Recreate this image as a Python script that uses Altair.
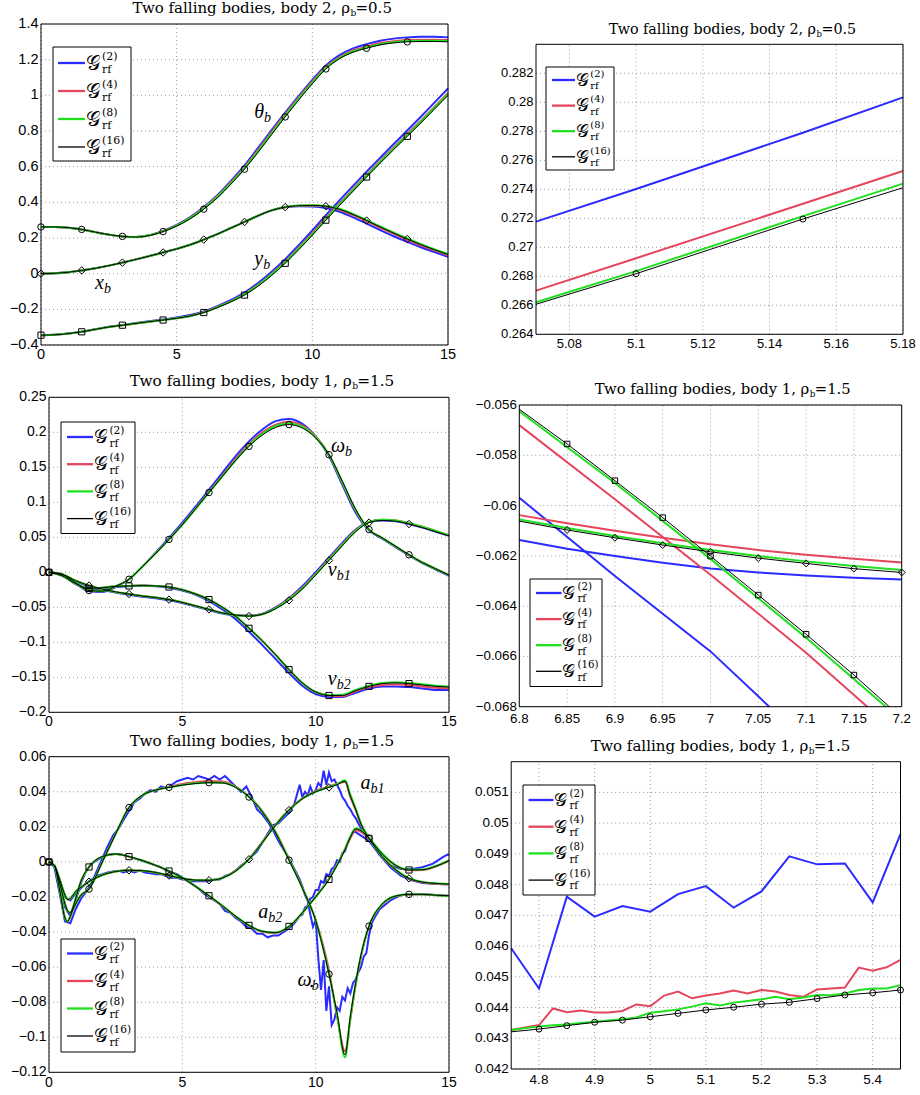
import altair as alt
import pandas as pd

W, H = 920, 1095

BLUE, RED, GREEN, BLACK = "#2b2bff", "#e5455d", "#1ee01e", "#000000"
GRID = "#9a9a9a"
COL = {"blue": BLUE, "red": RED, "green": GREEN, "black": BLACK}
LW = {"blue": 2.0, "red": 2.0, "green": 2.0, "black": 1.0}
ORDER = ["blue", "red", "green", "black"]
SUPER = {"blue": "(2)", "red": "(4)", "green": "(8)", "black": "(16)"}
SERIF = "DejaVu Serif"
MATH = "Liberation Serif"
SANS = "Liberation Sans"

# ------------------------------------------------------------------ data
T = [0, 0.5, 1, 1.5, 2, 2.5, 3, 3.5, 4, 4.5, 5, 5.5, 6, 6.5, 7, 7.5, 8, 8.5,
     9, 9.5, 10, 10.5, 11, 11.5, 12, 12.5, 13, 13.5, 14, 14.5, 15]
MARK_T = [0, 1.5, 3, 4.5, 6, 7.5, 9, 10.5, 12, 13.5]

# panel 1 : body 2, rho=0.5
P1_THETA = {
    "black": [0.262, 0.262, 0.258, 0.248, 0.233, 0.219, 0.209, 0.205, 0.214, 0.236, 0.267, 0.308, 0.362, 0.425, 0.502, 0.586, 0.680, 0.780, 0.879, 0.974, 1.065, 1.148, 1.205, 1.242, 1.264, 1.283, 1.294, 1.300, 1.302, 1.302, 1.300],
    "green": [0.262, 0.262, 0.258, 0.248, 0.233, 0.219, 0.209, 0.206, 0.215, 0.237, 0.269, 0.311, 0.366, 0.430, 0.508, 0.592, 0.687, 0.787, 0.886, 0.981, 1.071, 1.153, 1.209, 1.246, 1.268, 1.287, 1.298, 1.304, 1.306, 1.306, 1.304],
    "red":   [0.262, 0.262, 0.258, 0.248, 0.233, 0.219, 0.209, 0.206, 0.215, 0.238, 0.270, 0.313, 0.369, 0.434, 0.513, 0.598, 0.694, 0.795, 0.894, 0.988, 1.078, 1.159, 1.215, 1.252, 1.274, 1.293, 1.304, 1.310, 1.312, 1.312, 1.310],
    "blue":  [0.262, 0.262, 0.258, 0.248, 0.233, 0.219, 0.209, 0.206, 0.216, 0.240, 0.273, 0.317, 0.373, 0.440, 0.520, 0.607, 0.705, 0.805, 0.903, 0.997, 1.087, 1.168, 1.225, 1.263, 1.287, 1.306, 1.318, 1.325, 1.328, 1.328, 1.325],
}
P1_XB = {
    "black": [0.000, 0.002, 0.008, 0.018, 0.030, 0.045, 0.062, 0.080, 0.099, 0.119, 0.139, 0.162, 0.191, 0.222, 0.256, 0.290, 0.325, 0.355, 0.373, 0.381, 0.383, 0.378, 0.361, 0.332, 0.298, 0.262, 0.227, 0.194, 0.163, 0.134, 0.107],
    "green": [0.000, 0.002, 0.008, 0.018, 0.030, 0.045, 0.062, 0.080, 0.099, 0.119, 0.139, 0.162, 0.191, 0.222, 0.256, 0.290, 0.325, 0.355, 0.374, 0.382, 0.384, 0.380, 0.364, 0.335, 0.301, 0.265, 0.230, 0.197, 0.166, 0.137, 0.110],
    "red":   [0.000, 0.002, 0.008, 0.018, 0.030, 0.045, 0.062, 0.080, 0.099, 0.119, 0.139, 0.162, 0.191, 0.222, 0.256, 0.290, 0.325, 0.355, 0.373, 0.381, 0.382, 0.376, 0.358, 0.328, 0.294, 0.258, 0.223, 0.190, 0.159, 0.131, 0.104],
    "blue":  [0.000, 0.002, 0.008, 0.018, 0.030, 0.045, 0.062, 0.080, 0.099, 0.119, 0.139, 0.162, 0.191, 0.222, 0.256, 0.290, 0.325, 0.355, 0.372, 0.378, 0.377, 0.368, 0.347, 0.316, 0.281, 0.245, 0.210, 0.178, 0.148, 0.121, 0.094],
}
P1_YB = {
    "black": [-0.345, -0.343, -0.336, -0.326, -0.312, -0.299, -0.289, -0.279, -0.269, -0.260, -0.250, -0.237, -0.218, -0.190, -0.158, -0.120, -0.070, -0.010, 0.058, 0.135, 0.215, 0.300, 0.382, 0.462, 0.542, 0.620, 0.696, 0.770, 0.845, 0.922, 1.000],
    "green": [-0.345, -0.343, -0.336, -0.326, -0.312, -0.299, -0.289, -0.279, -0.269, -0.260, -0.250, -0.237, -0.217, -0.188, -0.155, -0.116, -0.065, -0.004, 0.064, 0.141, 0.221, 0.306, 0.388, 0.468, 0.548, 0.626, 0.702, 0.777, 0.852, 0.929, 1.007],
    "red":   [-0.345, -0.343, -0.336, -0.326, -0.312, -0.299, -0.289, -0.279, -0.269, -0.260, -0.250, -0.237, -0.216, -0.187, -0.154, -0.114, -0.062, 0.000, 0.069, 0.147, 0.227, 0.312, 0.394, 0.474, 0.554, 0.632, 0.708, 0.783, 0.858, 0.935, 1.013],
    "blue":  [-0.345, -0.343, -0.336, -0.326, -0.312, -0.298, -0.288, -0.277, -0.267, -0.257, -0.246, -0.232, -0.212, -0.182, -0.147, -0.106, -0.052, 0.011, 0.081, 0.160, 0.242, 0.328, 0.411, 0.492, 0.572, 0.650, 0.727, 0.803, 0.880, 0.959, 1.038],
}

# panel 2 : zoom of theta_b
P2_X = [5.07, 5.10, 5.15, 5.18]
P2_MARK = [5.10, 5.15]
P2_THETA = {
    "black": [0.26607, 0.26818, 0.27195, 0.27411],
    "green": [0.26621, 0.26836, 0.27215, 0.27439],
    "red":   [0.26701, 0.26925, 0.27300, 0.27526],
    "blue":  [0.27177, 0.27402, 0.27790, 0.28034],
}

# panel 3 : body 1, rho=1.5, velocities
P3_OMEGA = {
    "black": [0.000, -0.003, -0.015, -0.026, -0.027, -0.020, -0.010, 0.008, 0.027, 0.047, 0.068, 0.091, 0.114, 0.137, 0.160, 0.180, 0.196, 0.207, 0.211, 0.206, 0.192, 0.168, 0.130, 0.090, 0.061, 0.049, 0.037, 0.025, 0.014, 0.005, -0.004],
    "green": [0.000, -0.003, -0.015, -0.026, -0.027, -0.020, -0.010, 0.008, 0.027, 0.047, 0.068, 0.091, 0.114, 0.137, 0.160, 0.181, 0.198, 0.209, 0.213, 0.208, 0.193, 0.168, 0.129, 0.089, 0.061, 0.049, 0.037, 0.025, 0.014, 0.005, -0.004],
    "red":   [0.000, -0.003, -0.015, -0.026, -0.027, -0.020, -0.010, 0.008, 0.027, 0.047, 0.068, 0.091, 0.115, 0.138, 0.162, 0.183, 0.200, 0.211, 0.215, 0.210, 0.194, 0.168, 0.128, 0.088, 0.061, 0.049, 0.037, 0.025, 0.014, 0.005, -0.004],
    "blue":  [0.000, -0.003, -0.016, -0.027, -0.028, -0.021, -0.010, 0.008, 0.028, 0.049, 0.071, 0.094, 0.118, 0.142, 0.166, 0.187, 0.204, 0.216, 0.219, 0.212, 0.194, 0.166, 0.125, 0.085, 0.060, 0.048, 0.036, 0.024, 0.013, 0.004, -0.005],
}
P3_V1 = {
    "black": [0.000, -0.003, -0.012, -0.019, -0.024, -0.028, -0.031, -0.034, -0.036, -0.039, -0.043, -0.048, -0.053, -0.058, -0.061, -0.0625, -0.060, -0.052, -0.040, -0.024, -0.004, 0.017, 0.038, 0.058, 0.071, 0.074, 0.073, 0.069, 0.064, 0.058, 0.052],
    "green": [0.000, -0.003, -0.012, -0.019, -0.024, -0.028, -0.031, -0.034, -0.036, -0.039, -0.043, -0.048, -0.053, -0.058, -0.061, -0.0623, -0.0598, -0.0515, -0.039, -0.023, -0.003, 0.018, 0.039, 0.059, 0.072, 0.075, 0.074, 0.070, 0.065, 0.059, 0.053],
    "red":   [0.000, -0.003, -0.012, -0.019, -0.024, -0.028, -0.031, -0.034, -0.036, -0.039, -0.043, -0.048, -0.053, -0.058, -0.061, -0.0622, -0.0595, -0.051, -0.038, -0.022, -0.002, 0.019, 0.040, 0.060, 0.072, 0.075, 0.074, 0.070, 0.065, 0.059, 0.053],
    "blue":  [0.000, -0.003, -0.013, -0.020, -0.025, -0.029, -0.032, -0.035, -0.037, -0.040, -0.044, -0.049, -0.054, -0.059, -0.0615, -0.062, -0.059, -0.050, -0.037, -0.020, 0.000, 0.021, 0.042, 0.061, 0.072, 0.074, 0.073, 0.069, 0.064, 0.058, 0.052],
}
P3_V2 = {
    "black": [0.000, -0.005, -0.016, -0.023, -0.022, -0.020, -0.0195, -0.019, -0.0195, -0.021, -0.025, -0.031, -0.039, -0.050, -0.063, -0.080, -0.098, -0.118, -0.139, -0.158, -0.171, -0.176, -0.176, -0.169, -0.163, -0.159, -0.158, -0.159, -0.161, -0.163, -0.164],
    "green": [0.000, -0.005, -0.016, -0.023, -0.022, -0.020, -0.0195, -0.019, -0.0195, -0.021, -0.025, -0.031, -0.039, -0.050, -0.063, -0.080, -0.098, -0.118, -0.139, -0.158, -0.171, -0.1755, -0.175, -0.168, -0.162, -0.158, -0.157, -0.158, -0.160, -0.162, -0.163],
    "red":   [0.000, -0.005, -0.016, -0.023, -0.022, -0.020, -0.0195, -0.019, -0.0195, -0.021, -0.025, -0.031, -0.039, -0.050, -0.063, -0.080, -0.098, -0.118, -0.139, -0.158, -0.171, -0.176, -0.177, -0.170, -0.164, -0.161, -0.160, -0.161, -0.163, -0.165, -0.166],
    "blue":  [0.000, -0.005, -0.017, -0.024, -0.023, -0.021, -0.020, -0.019, -0.020, -0.022, -0.026, -0.032, -0.041, -0.053, -0.067, -0.085, -0.104, -0.124, -0.144, -0.162, -0.174, -0.178, -0.178, -0.172, -0.166, -0.163, -0.163, -0.164, -0.166, -0.168, -0.168],
}

# panel 4 : zoom of v_b1 (flat) and v_b2 (steep)
P4_X = [6.80, 6.85, 6.90, 6.95, 7.00, 7.05, 7.10, 7.15, 7.20]
P4_MARK_FLAT = [6.85, 6.90, 6.95, 7.00, 7.05, 7.10, 7.15, 7.20]
P4_MARK_STEEP = [6.85, 6.90, 6.95, 7.00, 7.05, 7.10, 7.15]
P4_FLAT = {
    "black": [-0.06062, -0.06097, -0.06128, -0.06157, -0.06184, -0.06209, -0.06230, -0.06251, -0.06266],
    "green": [-0.06055, -0.06089, -0.06121, -0.06150, -0.06177, -0.06201, -0.06222, -0.06240, -0.06256],
    "red":   [-0.06038, -0.06070, -0.06100, -0.06128, -0.06154, -0.06177, -0.06196, -0.06212, -0.06226],
    "blue":  [-0.06137, -0.06172, -0.06201, -0.06227, -0.06250, -0.06266, -0.06278, -0.06287, -0.06294],
}
P4_STEEP_X = {
    "black": [6.80, 6.85, 6.90, 6.95, 7.00, 7.05, 7.10, 7.15, 7.187],
    "green": [6.80, 6.90, 7.00, 7.10, 7.1835],
    "red":   [6.80, 6.90, 7.00, 7.10, 7.164],
    "blue":  [6.80, 6.90, 7.00, 7.0615],
}
P4_STEEP = {
    "black": [-0.05617, -0.05755, -0.05901, -0.06048, -0.06201, -0.06356, -0.06512, -0.06674, -0.06800],
    "green": [-0.05625, -0.05910, -0.06212, -0.06526, -0.06800],
    "red":   [-0.05680, -0.05975, -0.06275, -0.06585, -0.06800],
    "blue":  [-0.05969, -0.06280, -0.06580, -0.06800],
}

# panel 5 : accelerations
T5 = [0, 0.2, 0.4, 0.6, 0.7, 0.8, 0.9, 1.0, 1.2, 1.5, 2, 2.5, 3, 3.5, 4, 4.5, 5, 5.5, 6, 6.5,
      7, 7.5, 8, 8.5, 9, 9.5, 10, 10.5, 10.8, 11.1, 11.3, 11.5, 11.7, 12, 12.5, 13, 13.5, 14, 14.5, 15]
TB = [0, 0.2, 0.4, 0.6, 0.8, 1.0, 1.2, 1.4, 1.6, 1.8, 2.0, 2.2, 2.4, 2.6, 2.8, 3.0, 3.2, 3.4, 3.6, 3.8,
      4.0, 4.2, 4.4, 4.6, 4.8, 5.0, 5.2, 5.4, 5.6, 5.8, 6.0, 6.2, 6.4, 6.6, 6.8, 7.0, 7.2, 7.4, 7.6, 7.8,
      8.0, 8.2, 8.4, 8.6, 8.8, 9.0, 9.2, 9.4,
      9.5, 9.6, 9.7, 9.8, 9.9, 10.0, 10.1, 10.2, 10.3, 10.4, 10.5, 10.6, 10.7, 10.8, 10.9, 11.0, 11.1, 11.2, 11.3, 11.4,
      11.5, 11.6, 11.7, 11.8, 11.9, 12.0, 12.1, 12.2,
      12.4, 12.8, 13.2, 13.6, 14.0, 14.4, 14.8, 15.0]
P5_WDOT = {
    "black": [0, -0.002, -0.016, -0.032, -0.034, -0.031, -0.027, -0.024, -0.019, -0.0155,
              0.000, 0.016, 0.031, 0.038, 0.041, 0.0425, 0.0438, 0.0447, 0.0452, 0.0450,
              0.0425, 0.0370, 0.0285, 0.0165, 0.0010, -0.0150, -0.0335, -0.0640, -0.0860, -0.1100,
              -0.0880, -0.0690, -0.0530, -0.0366, -0.0240, -0.0195, -0.0185, -0.0185, -0.0190, -0.0193],
    "green": [0, -0.002, -0.016, -0.032, -0.034, -0.031, -0.027, -0.024, -0.019, -0.0155,
              0.000, 0.016, 0.031, 0.038, 0.041, 0.0425, 0.0439, 0.0448, 0.0453, 0.0451,
              0.0427, 0.0372, 0.0287, 0.0167, 0.0012, -0.0148, -0.0333, -0.0640, -0.0870, -0.1115,
              -0.0890, -0.0695, -0.0532, -0.0366, -0.0240, -0.0195, -0.0185, -0.0185, -0.0190, -0.0193],
    "red":   [0, -0.002, -0.016, -0.032, -0.034, -0.031, -0.027, -0.024, -0.019, -0.0155,
              0.000, 0.016, 0.031, 0.038, 0.041, 0.0428, 0.0445, 0.0455, 0.0462, 0.0458,
              0.0430, 0.0372, 0.0290, 0.0170, 0.0015, -0.0145, -0.0330, -0.0620, -0.0880, -0.1080,
              -0.0900, -0.0700, -0.0540, -0.0370, -0.0242, -0.0196, -0.0186, -0.0185, -0.0190, -0.0193],
    "blue":  [0, -0.003, -0.018, -0.034, -0.035, -0.027, -0.021, -0.017, -0.012, -0.005,
              0.002, 0.009, 0.015, 0.019, 0.024, 0.029, 0.034, 0.036, 0.039, 0.041,
              0.040, 0.043, 0.042, 0.044, 0.046, 0.047, 0.048, 0.047, 0.049, 0.048,
              0.047, 0.049, 0.047, 0.049, 0.046, 0.043, 0.040, 0.043, 0.037, 0.030,
              0.027, 0.023, 0.018, 0.012, 0.007, 0.002, -0.004, -0.010,
              -0.014, -0.019, -0.022, -0.030, -0.037, -0.033, -0.055, -0.073, -0.056, -0.085,
              -0.071, -0.093, -0.090, -0.083, -0.085, -0.077, -0.079, -0.072, -0.075, -0.069,
              -0.067, -0.063, -0.060, -0.054, -0.052, -0.042, -0.035, -0.032,
              -0.027, -0.022, -0.019, -0.0185, -0.0185, -0.0188, -0.0192, -0.0193],
}
P5_A1 = {
    "black": [0, -0.002, -0.010, -0.019, -0.0215, -0.021, -0.019, -0.017, -0.0145, -0.0113,
              -0.0075, -0.0055, -0.0048, -0.0050, -0.0060, -0.0078, -0.0094, -0.0104, -0.0105, -0.0092,
              -0.0052, 0.0015, 0.0110, 0.0210, 0.0295, 0.0360, 0.0400, 0.0425, 0.0440, 0.0460,
              0.0375, 0.0300, 0.0215, 0.0135, 0.0030, -0.0045, -0.0094, -0.0115, -0.0123, -0.0127],
    "green": [0, -0.002, -0.010, -0.019, -0.0215, -0.021, -0.019, -0.017, -0.0145, -0.0113,
              -0.0075, -0.0055, -0.0048, -0.0050, -0.0060, -0.0078, -0.0094, -0.0104, -0.0105, -0.0092,
              -0.0052, 0.0015, 0.0110, 0.0210, 0.0295, 0.0360, 0.0400, 0.0427, 0.0443, 0.0465,
              0.0385, 0.0305, 0.0220, 0.0137, 0.0031, -0.0044, -0.0093, -0.0114, -0.0122, -0.0126],
    "red":   [0, -0.002, -0.010, -0.019, -0.0215, -0.021, -0.019, -0.017, -0.0145, -0.0113,
              -0.0075, -0.0055, -0.0048, -0.0050, -0.0061, -0.0079, -0.0095, -0.0104, -0.0105, -0.0091,
              -0.0050, 0.0018, 0.0114, 0.0213, 0.0297, 0.0362, 0.0405, 0.0430, 0.0446, 0.0455,
              0.0370, 0.0295, 0.0212, 0.0133, 0.0029, -0.0046, -0.0095, -0.0116, -0.0124, -0.0128],
    "blue":  [0, -0.002, -0.011, -0.020, -0.022, -0.018, -0.015, -0.012, -0.010, -0.008,
              -0.007, -0.006, -0.0055, -0.005, -0.006, -0.005, -0.006, -0.005, -0.006, -0.0065,
              -0.007, -0.007, -0.008, -0.009, -0.009, -0.010, -0.010, -0.011, -0.011, -0.011,
              -0.011, -0.010, -0.010, -0.008, -0.007, -0.005, -0.002, 0.000, 0.003, 0.006,
              0.011, 0.016, 0.021, 0.022, 0.025, 0.028, 0.033, 0.044,
              0.037, 0.040, 0.038, 0.043, 0.039, 0.041, 0.045, 0.043, 0.052, 0.044,
              0.051, 0.046, 0.047, 0.044, 0.041, 0.037, 0.035, 0.032, 0.030, 0.027,
              0.025, 0.022, 0.019, 0.017, 0.015, 0.013, 0.011, 0.009,
              0.004, -0.003, -0.008, -0.0105, -0.012, -0.0125, -0.0128, -0.0128],
}
P5_A2 = {
    "black": [0, -0.002, -0.012, -0.024, -0.028, -0.029, -0.026, -0.021, -0.011, -0.0029,
              0.0030, 0.0045, 0.0030, 0.0008, -0.0020, -0.0052, -0.0090, -0.0140, -0.0193, -0.0250,
              -0.0310, -0.0362, -0.0396, -0.0403, -0.0368, -0.0290, -0.0200, -0.0100, -0.0020, 0.0070,
              0.0140, 0.0188, 0.0178, 0.0134, 0.0045, -0.0020, -0.0046, -0.0045, -0.0025, 0.0007],
    "green": [0, -0.002, -0.012, -0.024, -0.028, -0.029, -0.026, -0.021, -0.011, -0.0029,
              0.0030, 0.0045, 0.0030, 0.0008, -0.0020, -0.0052, -0.0090, -0.0140, -0.0193, -0.0250,
              -0.0310, -0.0362, -0.0396, -0.0403, -0.0368, -0.0290, -0.0200, -0.0098, -0.0017, 0.0074,
              0.0145, 0.0192, 0.0182, 0.0137, 0.0047, -0.0018, -0.0044, -0.0043, -0.0023, 0.0009],
    "red":   [0, -0.002, -0.012, -0.024, -0.028, -0.029, -0.026, -0.021, -0.011, -0.0029,
              0.0030, 0.0045, 0.0030, 0.0008, -0.0020, -0.0053, -0.0091, -0.0141, -0.0194, -0.0252,
              -0.0312, -0.0364, -0.0398, -0.0405, -0.0370, -0.0292, -0.0198, -0.0095, -0.0015, 0.0072,
              0.0135, 0.0180, 0.0172, 0.0130, 0.0043, -0.0021, -0.0047, -0.0046, -0.0026, 0.0006],
    "blue":  [0, -0.002, -0.013, -0.026, -0.031, -0.022, -0.012, -0.005, -0.001, 0.001,
              0.003, 0.004, 0.0045, 0.0045, 0.004, 0.003, 0.002, 0.001, 0.000, -0.001,
              -0.002, -0.003, -0.005, -0.006, -0.007, -0.009, -0.011, -0.013, -0.015, -0.018,
              -0.020, -0.022, -0.024, -0.028, -0.029, -0.032, -0.034, -0.037, -0.038, -0.041,
              -0.041, -0.043, -0.042, -0.042, -0.040, -0.038, -0.035, -0.031,
              -0.030, -0.026, -0.025, -0.021, -0.020, -0.016, -0.016, -0.011, -0.012, -0.007,
              -0.008, -0.004, -0.003, 0.001, 0.000, 0.005, 0.006, 0.011, 0.014, 0.017,
              0.017, 0.016, 0.015, 0.014, 0.013, 0.012, 0.010, 0.008,
              0.004, -0.002, -0.004, -0.004, -0.003, -0.001, 0.003, 0.0045],
}

# panel 6 : zoom of omega-dot
P6_X50 = [4.75, 4.80, 4.85, 4.90, 4.95, 5.00, 5.05, 5.10, 5.15, 5.20, 5.25, 5.30, 5.35, 5.40, 5.45]
P6_X25 = [4.75, 4.775, 4.80, 4.825, 4.85, 4.875, 4.90, 4.925, 4.95, 4.975, 5.00, 5.025, 5.05, 5.075,
          5.10, 5.125, 5.15, 5.175, 5.20, 5.225, 5.25, 5.275, 5.30, 5.325, 5.35, 5.375, 5.40, 5.425, 5.45]
P6_MARK = [4.80, 4.85, 4.90, 4.95, 5.00, 5.05, 5.10, 5.15, 5.20, 5.25, 5.30, 5.35, 5.40, 5.45]
P6_WDOT = {
    "black": [0.04321, 0.04330, 0.04341, 0.04352, 0.04359, 0.04370, 0.04381, 0.04392, 0.04401, 0.04411, 0.04417, 0.04429, 0.04441, 0.04448, 0.04457],
    "blue":  [0.04593, 0.04462, 0.04761, 0.04696, 0.04730, 0.04712, 0.04769, 0.04795, 0.04725, 0.04778, 0.04892, 0.04866, 0.04869, 0.04742, 0.04964],
    "red":   [0.04327, 0.04335, 0.04343, 0.04397, 0.04385, 0.04390, 0.04384, 0.04384, 0.04389, 0.04410, 0.04404, 0.04439, 0.04452, 0.04430,
              0.04439, 0.04446, 0.04455, 0.04446, 0.04457, 0.04452, 0.04441, 0.04435, 0.04459, 0.04462, 0.04465, 0.04530, 0.04520, 0.04531, 0.04555],
    "green": [0.04327, 0.04333, 0.04338, 0.04342, 0.04345, 0.04350, 0.04354, 0.04358, 0.04362, 0.04368, 0.04383, 0.04388, 0.04394, 0.04403,
              0.04414, 0.04407, 0.04416, 0.04421, 0.04427, 0.04435, 0.04427, 0.04433, 0.04441, 0.04440, 0.04446, 0.04457, 0.04462, 0.04462, 0.04473],
}
P6_XS = {"black": P6_X50, "blue": P6_X50, "red": P6_X25, "green": P6_X25}

# tick labels
P1_YT = [-0.4, -0.2, 0, 0.2, 0.4, 0.6, 0.8, 1, 1.2, 1.4]
P2_XT = [5.08, 5.10, 5.12, 5.14, 5.16, 5.18]
P2_YT = [0.264, 0.266, 0.268, 0.270, 0.272, 0.274, 0.276, 0.278, 0.280, 0.282]
P3_YT = [-0.2, -0.15, -0.1, -0.05, 0, 0.05, 0.1, 0.15, 0.2, 0.25]
P4_XT = [6.8, 6.85, 6.9, 6.95, 7, 7.05, 7.1, 7.15, 7.2]
P4_YT = [-0.068, -0.066, -0.064, -0.062, -0.060, -0.058, -0.056]
P5_YT = [-0.12, -0.1, -0.08, -0.06, -0.04, -0.02, 0, 0.02, 0.04, 0.06]
P6_XT = [4.8, 4.9, 5.0, 5.1, 5.2, 5.3, 5.4]
P6_YT = [0.042, 0.043, 0.044, 0.045, 0.046, 0.047, 0.048, 0.049, 0.050, 0.051]
FULL_XT = [0, 5, 10, 15]

# in-plot labels (data coordinates): symbol, subscript, x, y
P1_LABELS = [("θ", "b", 8.22, 0.871), ("y", "b", 8.19, 0.048), ("x", "b", 2.32, -0.088)]
P3_LABELS = [("ω", "b", 11.1, 0.172), ("v", "b1", 10.79, -0.005), ("v", "b2", 10.79, -0.161)]
P5_LABELS = [("a", "b1", 12.06, 0.0414), ("a", "b2", 8.22, -0.0322), ("ω", "b", 9.85, -0.0708)]
P5_DOTS = [(9.85, -0.0708)]

TITLE_A = "Two falling bodies, body 2, ρ"
TITLE_B = "Two falling bodies, body 1, ρ"


# ------------------------------------------------------------------ helpers
def long_df(curves):
    rows = []
    for name, xs, ys in curves:
        for s in ORDER:
            xx = xs[s] if isinstance(xs, dict) else xs
            yy = ys[s]
            assert len(xx) == len(yy), (name, s, len(xx), len(yy))
            for a, b in zip(xx, yy):
                rows.append({"x": a, "y": b, "series": s, "curve": name})
    return pd.DataFrame(rows)


def fmt(v):
    return ("%g" % v).replace("-", "\u2212")


def build_panel(p, df, markers, labels, interp, msize, dots=None):
    sx = alt.Scale(domain=p["xdom"], range=[p["x0"], p["x1"]], nice=False, zero=False)
    sy = alt.Scale(domain=p["ydom"], range=[p["y1"], p["y0"]], nice=False, zero=False)

    def X(f):
        return alt.X(f, type="quantitative", scale=sx, axis=None)

    def Y(f):
        return alt.Y(f, type="quantitative", scale=sy, axis=None)

    layers = []
    vg = pd.DataFrame({"v": p["xt"], "lo": p["ydom"][0], "hi": p["ydom"][1],
                       "lab": [fmt(v) for v in p["xt"]]})
    hg = pd.DataFrame({"v": p["yt"], "lo": p["xdom"][0], "hi": p["xdom"][1],
                       "lab": [fmt(v) for v in p["yt"]]})
    layers.append(alt.Chart(vg).mark_rule(color=GRID, strokeDash=[1, 3], strokeWidth=1)
                  .encode(x=X("v"), y=Y("lo"), y2="hi"))
    layers.append(alt.Chart(hg).mark_rule(color=GRID, strokeDash=[1, 3], strokeWidth=1)
                  .encode(y=Y("v"), x=X("lo"), x2="hi"))
    for s in ORDER:
        layers.append(alt.Chart(df[df.series == s]).mark_line(
            color=COL[s], strokeWidth=LW[s], interpolate=interp[s])
            .encode(x=X("x"), y=Y("y"), detail="curve:N"))
    blk = df[df.series == "black"]
    for curve, shape, mx in markers:
        keys = {round(v, 4) for v in mx}
        sub = blk[(blk.curve == curve) & blk.x.round(4).isin(keys)]
        layers.append(alt.Chart(sub).mark_point(
            shape=shape, filled=False, color="black", strokeWidth=1, opacity=1,
            size=msize[shape]).encode(x=X("x"), y=Y("y")))
    fr = pd.DataFrame({"xa": [p["xdom"][0]], "xb": [p["xdom"][1]],
                       "ya": [p["ydom"][0]], "yb": [p["ydom"][1]]})
    layers.append(alt.Chart(fr).mark_rect(fillOpacity=0, stroke="black", strokeWidth=1)
                  .encode(x=X("xa"), x2="xb", y=Y("ya"), y2="yb"))
    # tick labels placed through the panel's scales
    layers.append(alt.Chart(vg).mark_text(font=SANS, fontSize=p["lfs"], align="center",
                                          baseline="top", dy=p["xdy"], color="black")
                  .encode(x=X("v"), y=Y("lo"), text="lab:N"))
    layers.append(alt.Chart(hg).mark_text(font=SANS, fontSize=p["lfs"], align="right",
                                          baseline="middle", dx=-2.5, color="black")
                  .encode(y=Y("v"), x=X("lo"), text="lab:N"))
    if labels:
        ld = pd.DataFrame(labels, columns=["m", "s", "x", "y"])
        layers.append(alt.Chart(ld).mark_text(font=MATH, fontStyle="italic", fontSize=20,
                                              align="right", baseline="alphabetic", color="black")
                      .encode(x=X("x"), y=Y("y"), text="m:N"))
        layers.append(alt.Chart(ld).mark_text(font=MATH, fontStyle="italic", fontSize=14,
                                              align="left", baseline="alphabetic", dy=4, color="black")
                      .encode(x=X("x"), y=Y("y"), text="s:N"))
    if dots:
        dd = pd.DataFrame(dots, columns=["x", "y"])
        layers.append(alt.Chart(dd).mark_point(shape="circle", filled=True, color="black",
                                               size=6, opacity=1, dx=-6, dy=-15)
                      .encode(x=X("x"), y=Y("y")))
    return alt.layer(*layers)


# ------------------------------------------------------------------ layout (pixels)
PANELS = [
    dict(x0=41, x1=448, y0=24, y1=345, xdom=[0, 15], ydom=[-0.4, 1.4], xt=FULL_XT, yt=P1_YT, lfs=14.5, xdy=3),
    dict(x0=536, x1=903, y0=44.3, y1=334.3, xdom=[5.07, 5.18], ydom=[0.264, 0.284], xt=P2_XT, yt=P2_YT, lfs=13, xdy=4),
    dict(x0=49, x1=449, y0=397.3, y1=712.3, xdom=[0, 15], ydom=[-0.2, 0.25], xt=FULL_XT, yt=P3_YT, lfs=14, xdy=3),
    dict(x0=519.3, x1=901.7, y0=405, y1=706.7, xdom=[6.8, 7.2], ydom=[-0.068, -0.056], xt=P4_XT, yt=P4_YT, lfs=13.3, xdy=5),
    dict(x0=49, x1=449, y0=756.7, y1=1072.3, xdom=[0, 15], ydom=[-0.12, 0.06], xt=FULL_XT, yt=P5_YT, lfs=14, xdy=4),
    dict(x0=511.2, x1=900.5, y0=761.7, y1=1069, xdom=[4.75, 5.45], ydom=[0.042, 0.052], xt=P6_XT, yt=P6_YT, lfs=13.5, xdy=4),
]
LEGENDS = [
    dict(l=53, t=47, w=78, h=114, r0=16, sp=28, a=5, b=32, fs=15),
    dict(l=546, t=67, w=68, h=103, r0=13, sp=25.6, a=6, b=29, fs=13.5),
    dict(l=61, t=422, w=74, h=111.5, r0=15, sp=27.2, a=6, b=32, fs=14.5),
    dict(l=530, t=579, w=72, h=107.5, r0=14, sp=26.1, a=6, b=31.5, fs=14),
    dict(l=61, t=939, w=74, h=113, r0=14.5, sp=27.5, a=6, b=32, fs=14.5),
    dict(l=523, t=785, w=72, h=110, r0=15, sp=26.7, a=5.5, b=30.5, fs=14),
]
TITLES = [
    dict(jx=350, by=12.5, fs=15.0, main=TITLE_A, rest="=0.5"),
    dict(jx=816, by=34, fs=14.3, main=TITLE_A, rest="=0.5"),
    dict(jx=351.7, by=385.5, fs=15.3, main=TITLE_B, rest="=1.5"),
    dict(jx=809.3, by=394, fs=14.8, main=TITLE_B, rest="=1.5"),
    dict(jx=351.7, by=746, fs=15.3, main=TITLE_B, rest="=1.5"),
    dict(jx=808.3, by=750.7, fs=15.0, main=TITLE_B, rest="=1.5"),
]

SMOOTH = {s: "monotone" for s in ORDER}
STRAIGHT = {s: "linear" for s in ORDER}
P5_INTERP = {"blue": "linear", "red": "monotone", "green": "monotone", "black": "monotone"}
BIG = {"circle": 42, "square": 38, "diamond": 55}
SMALL = {"circle": 36, "square": 30, "diamond": 48}

p1 = build_panel(PANELS[0], long_df([("theta", T, P1_THETA), ("xb", T, P1_XB), ("yb", T, P1_YB)]),
                 [("theta", "circle", MARK_T), ("xb", "diamond", MARK_T), ("yb", "square", MARK_T)],
                 P1_LABELS, SMOOTH, BIG)
p2 = build_panel(PANELS[1], long_df([("theta", P2_X, P2_THETA)]),
                 [("theta", "circle", P2_MARK)], None, STRAIGHT, SMALL)
p3 = build_panel(PANELS[2], long_df([("omega", T, P3_OMEGA), ("v1", T, P3_V1), ("v2", T, P3_V2)]),
                 [("omega", "circle", MARK_T), ("v1", "diamond", MARK_T), ("v2", "square", MARK_T)],
                 P3_LABELS, SMOOTH, BIG)
p4 = build_panel(PANELS[3], long_df([("flat", P4_X, P4_FLAT), ("steep", P4_STEEP_X, P4_STEEP)]),
                 [("flat", "diamond", P4_MARK_FLAT), ("steep", "square", P4_MARK_STEEP)],
                 None, STRAIGHT, SMALL)
P5_XS = {"blue": TB, "red": T5, "green": T5, "black": T5}
p5 = build_panel(PANELS[4], long_df([("wdot", P5_XS, P5_WDOT), ("a1", P5_XS, P5_A1), ("a2", P5_XS, P5_A2)]),
                 [("wdot", "circle", MARK_T), ("a1", "diamond", MARK_T), ("a2", "square", MARK_T)],
                 P5_LABELS, P5_INTERP, BIG, dots=P5_DOTS)
p6 = build_panel(PANELS[5], long_df([("wdot", P6_XS, P6_WDOT)]),
                 [("wdot", "circle", P6_MARK)], None, STRAIGHT, SMALL)

# ------------------------------------------------------------------ legends and titles (pixel overlay)
boxes, rules, texts_l, texts_r = [], [], [], []
for L in LEGENDS:
    boxes.append({"l": L["l"], "r": L["l"] + L["w"], "t": L["t"], "b": L["t"] + L["h"]})
    k = L["fs"] / 15.0
    for i, s in enumerate(ORDER):
        ry = L["t"] + L["r0"] + i * L["sp"]
        rules.append({"x": L["l"] + L["a"], "x2": L["l"] + L["b"], "y": ry, "col": COL[s], "sw": LW[s] + 0.3})
        gx = L["l"] + L["b"] + 0.5
        texts_l.append({"x": gx, "y": ry + 6.5 * k, "t": "𝒢", "fs": L["fs"] * 1.3})
        texts_l.append({"x": gx + 16.5 * k, "y": ry - 3.5 * k, "t": SUPER[s], "fs": 11 * k})
        texts_l.append({"x": gx + 16.5 * k, "y": ry + 10 * k, "t": "rf", "fs": 11 * k})
for Tt in TITLES:
    texts_r.append({"x": Tt["jx"], "y": Tt["by"], "t": Tt["main"], "fs": Tt["fs"]})
    texts_l.append({"x": Tt["jx"] + 0.5, "y": Tt["by"] + 3, "t": "b", "fs": Tt["fs"] * 0.6})
    texts_l.append({"x": Tt["jx"] + 5.5, "y": Tt["by"], "t": Tt["rest"], "fs": Tt["fs"]})


def OX(f):
    return alt.X(f, type="quantitative", scale=None, axis=None)


def OY(f):
    return alt.Y(f, type="quantitative", scale=None, axis=None)


ov_box = alt.Chart(pd.DataFrame(boxes)).mark_rect(fill="white", stroke="black", strokeWidth=1).encode(
    x=OX("l"), x2="r", y=OY("t"), y2="b")
ov_rule = alt.Chart(pd.DataFrame(rules)).mark_rule().encode(
    x=OX("x"), x2="x2", y=OY("y"),
    color=alt.Color("col:N", scale=None), strokeWidth=alt.StrokeWidth("sw:Q", scale=None))
ov_tl = alt.Chart(pd.DataFrame(texts_l)).mark_text(font=SERIF, align="left", baseline="alphabetic", color="black").encode(
    x=OX("x"), y=OY("y"), text="t:N", size=alt.Size("fs:Q", scale=None))
ov_tr = alt.Chart(pd.DataFrame(texts_r)).mark_text(font=SERIF, align="right", baseline="alphabetic", color="black").encode(
    x=OX("x"), y=OY("y"), text="t:N", size=alt.Size("fs:Q", scale=None))

chart = alt.layer(p1, p2, p3, p4, p5, p6, ov_box, ov_rule, ov_tl, ov_tr).resolve_scale(
    x="independent", y="independent"
).properties(
    width=W, height=H, autosize=alt.AutoSizeParams(type="none"), padding=0, background="white"
).configure_view(strokeWidth=0)

chart.save("out.html", embed_options={"renderer": "svg", "actions": False})
